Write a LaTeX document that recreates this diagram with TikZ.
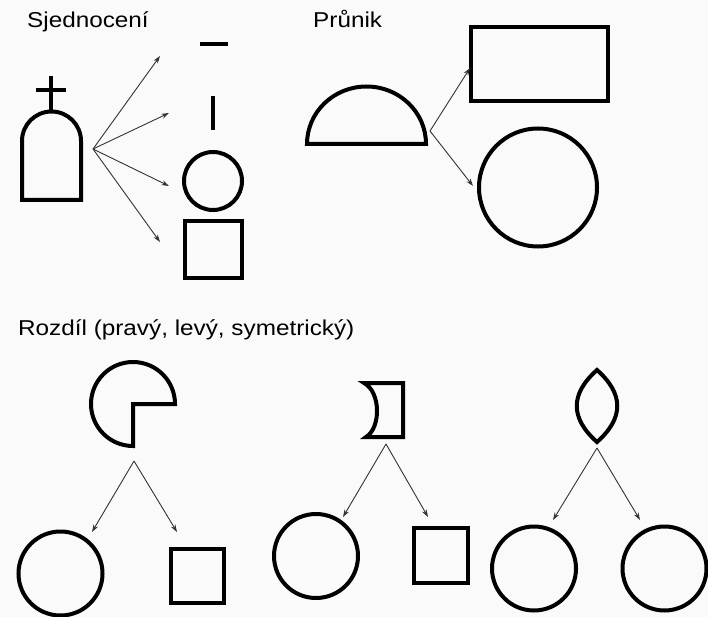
\documentclass[tikz,border=0pt]{standalone}
\usepackage{fontspec}
\setmainfont{Liberation Sans}
\usepackage{graphicx}
\usetikzlibrary{arrows.meta}
\definecolor{bg}{HTML}{FAFAFA}
\definecolor{arr}{HTML}{333333}
\tikzset{
  fig/.style={draw=black, line width=4pt, line join=miter},
  conn/.style={draw=arr, line width=0.9pt, -{Stealth[length=7.5pt,width=5pt]}},
  title/.style={anchor=base west, inner sep=0pt, font=\fontsize{21.5}{25}\selectfont}
}
\begin{document}
\begin{tikzpicture}[x=1pt,y=-1pt]
\fill[bg] (0,0) rectangle (708,617);
\useasboundingbox (0,0) rectangle (708,617);

% titles
\node[title] (t1) at (27,27.5) {\scalebox{1.13}[1]{Sjednocení}};
\node[title] (t2) at (313,27.5) {\scalebox{1.13}[1]{Průnik}};
\node[title] (t3) at (18,335) {\scalebox{1.13}[1]{Rozdíl (pravý, levý, symetrický)}};

% ---- Sjednoceni ----
\draw[fig] (22,200) -- (22,141) arc[start angle=180,end angle=360,radius=29.5] -- (81,200) -- cycle;
\draw[fig] (51,76) -- (51,111);
\draw[fig] (36,90) -- (66,90);
\draw[fig] (200,44) -- (228,44);
\draw[fig] (213,96) -- (213,130);
\node[fig, circle, minimum size=58pt, inner sep=0pt] (uc) at (213,181) {};
\draw[fig] (185,221) rectangle (242,278);

\coordinate (us) at (93,149);
\coordinate (u1) at (160,56);
\coordinate (u2) at (169,113);
\coordinate (u3) at (169,186);
\coordinate (u4) at (160,242);
\draw[conn] (us) -- (u1);
\draw[conn] (us) -- (u2);
\draw[conn] (us) -- (u3);
\draw[conn] (us) -- (u4);

% ---- Prunik ----
\draw[fig] (307,144) arc[start angle=180,end angle=360,x radius=59.5,y radius=57.5] -- cycle;
\draw[fig] (471,27) rectangle (608,101);
\node[fig, circle, minimum size=118pt, inner sep=0pt] (pc) at (538,187.5) {};
\coordinate (ps) at (430,131);
\coordinate (p1) at (470,68);
\coordinate (p2) at (473,186);
\draw[conn] (ps) -- (p1);
\draw[conn] (ps) -- (p2);

% ---- Rozdil 1 ----
\draw[fig] (133,404) -- (175,404) arc[start angle=360,end angle=90,radius=42] -- cycle;
\node[fig, circle, minimum size=84pt, inner sep=0pt] (r1c) at (60.5,573.5) {};
\draw[fig] (171,549) rectangle (224,603);
\coordinate (r1s) at (134,461);
\coordinate (r1a) at (92,532);
\coordinate (r1b) at (177,532);
\draw[conn] (r1s) -- (r1a);
\draw[conn] (r1s) -- (r1b);

% ---- Rozdil 2 ----
\draw[fig] (364,383) -- (403,383) -- (403,437) -- (366,437) .. controls (381,428) and (381,392) .. cycle;
\node[fig, circle, minimum size=84pt, inner sep=0pt] (r2c) at (316,556) {};
\draw[fig] (414,528) rectangle (468,583);
\coordinate (r2s) at (386,444);
\coordinate (r2a) at (343,517);
\coordinate (r2b) at (428,517);
\draw[conn] (r2s) -- (r2a);
\draw[conn] (r2s) -- (r2b);

% ---- Rozdil 3 ----
\draw[fig, miter limit=20] (597,370) .. controls (570,394) and (570,418) .. (597,442) .. controls (624,418) and (624,394) .. cycle;
\node[fig, circle, minimum size=84pt, inner sep=0pt] (r3c) at (534,568.5) {};
\node[fig, circle, minimum size=84pt, inner sep=0pt] (r3d) at (664.5,568.5) {};
\coordinate (r3s) at (597,448);
\coordinate (r3a) at (553,520);
\coordinate (r3b) at (640,520);
\draw[conn] (r3s) -- (r3a);
\draw[conn] (r3s) -- (r3b);
\end{tikzpicture}
\end{document}
